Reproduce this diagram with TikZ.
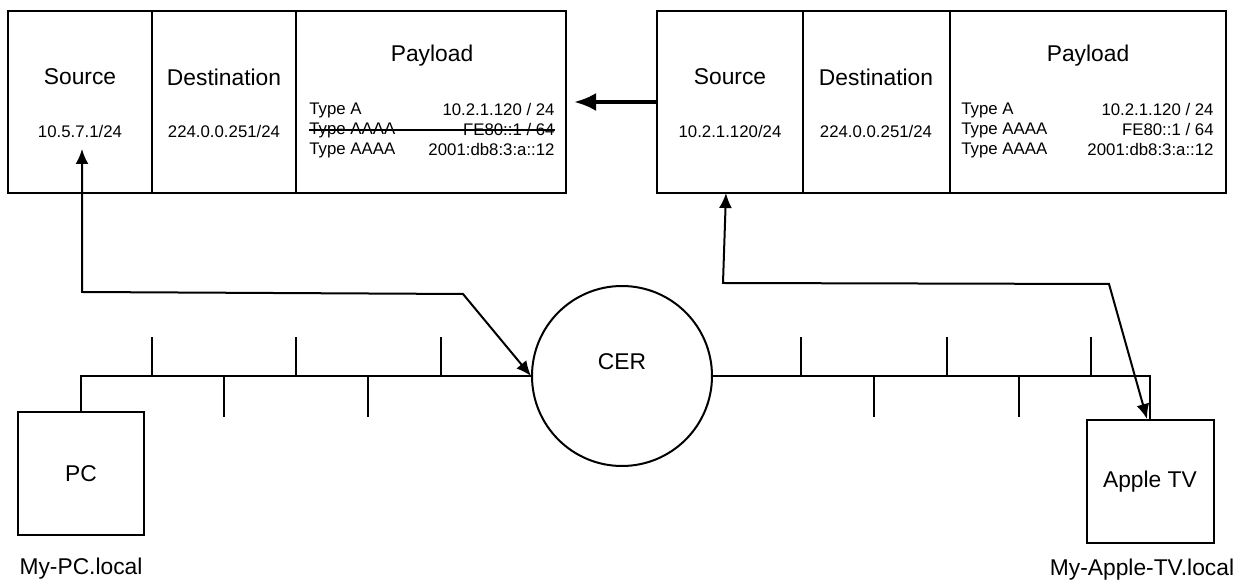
\documentclass[tikz,border=0pt]{standalone}
\usepackage{fontspec}
\setmainfont{Liberation Sans}
\usetikzlibrary{arrows.meta}

\tikzset{
  cell/.style={draw, rectangle, line width=1pt, inner sep=0pt, outer sep=0pt, minimum height=91pt},
  big/.style={font=\fontsize{11.4}{13}\selectfont},
  small/.style={font=\fontsize{8.4}{10}\selectfont, inner sep=0pt},
  wire/.style={line width=1pt},
  link/.style={line width=1pt, {Latex[length=7.5pt,width=6.5pt]}-{Latex[length=7.5pt,width=6.5pt]}},
  push/.style={line width=2pt, -{Latex[length=11pt,width=9pt]}, shorten >=4pt},
}

\begin{document}
\begin{tikzpicture}[x=.5pt,y=-.5pt]
  \useasboundingbox (0,0) rectangle (1250,582);

  \begin{scope}[every node/.style={cell}]
    \node[minimum width=72pt]   (lsrc) at (80,102)    {};
    \node[minimum width=72pt]   (ldst) at (224,102)   {};
    \node[minimum width=135pt]  (lpay) at (431,102)   {};
    \node[minimum width=73pt]   (rsrc) at (730,102)   {};
    \node[minimum width=73.5pt] (rdst) at (876.5,102) {};
    \node[minimum width=138pt]  (rpay) at (1088,102)  {};
  \end{scope}

  \begin{scope}[every node/.style={big}]
    \node (lsrct) at (80,77)   {Source};
    \node (ldstt) at (224,77)  {Destination};
    \node (lpayt) at (432,56)  {Payload};
    \node (rsrct) at (730,77)  {Source};
    \node (rdstt) at (876,77)  {Destination};
    \node (rpayt) at (1088,56) {Payload};
  \end{scope}

  \begin{scope}[every node/.style={small}]
    \node (lsrcip) at (80,132)  {10.5.7.1/24};
    \node (ldstip) at (224,132) {224.0.0.251/24};
    \node (rsrcip) at (730,132) {10.2.1.120/24};
    \node (rdstip) at (876,132) {224.0.0.251/24};
    \foreach \p/\l/\r in {l/309/555, r/961/1214} {
      \node[anchor=west] (\p t1) at (\l,110) {Type A};
      \node[anchor=east] (\p v1) at (\r,110) {10.2.1.120 / 24};
      \node[anchor=west] (\p t2) at (\l,130) {Type AAAA};
      \node[anchor=east] (\p v2) at (\r,130) {FE80::1 / 64};
      \node[anchor=west] (\p t3) at (\l,150) {Type AAAA};
      \node[anchor=east] (\p v3) at (\r,150) {2001:db8:3:a::12};
    }
  \end{scope}
  \draw[wire] (lt2.west) -- (lv2.east |- lt2.west);

  \node[draw, circle, wire, minimum size=90pt, inner sep=0pt] (cer) at (622,376) {};
  \node[big] (cert) at (622,362) {CER};

  \node[draw, wire, big, minimum width=63pt, minimum height=61.5pt] (pc) at (81,473.5) {PC};
  \node[draw, wire, big, minimum width=63.5pt, minimum height=61.5pt] (atv) at (1150,481.5) {Apple TV};
  \node[big] (pcname) at (81,569) {My-PC.local};
  \node[big] (atvname) at (1142,570) {My-Apple-TV.local};

  \draw[wire] (pc.north) |- (cer.west);
  \draw[wire] (cer.east) -| (atv.north);
  \foreach \x in {152,296,441,801,947,1091}
    \draw[wire] (\x,376) -- (\x,337);
  \foreach \x in {224,368,874,1019}
    \draw[wire] (\x,376) -- (\x,417);

  \coordinate (ltip) at (82,149);
  \coordinate (rtip) at (726,193);
  \draw[link] (ltip) -- (82,292) -- (463,294) -- (cer.west);
  \draw[link] (rtip) -- (723,283) -- (1109,284) -- ([xshift=-1.5pt]atv.north);
  \draw[push] (rsrc.west) -- (lpay.east);
\end{tikzpicture}
\end{document}
